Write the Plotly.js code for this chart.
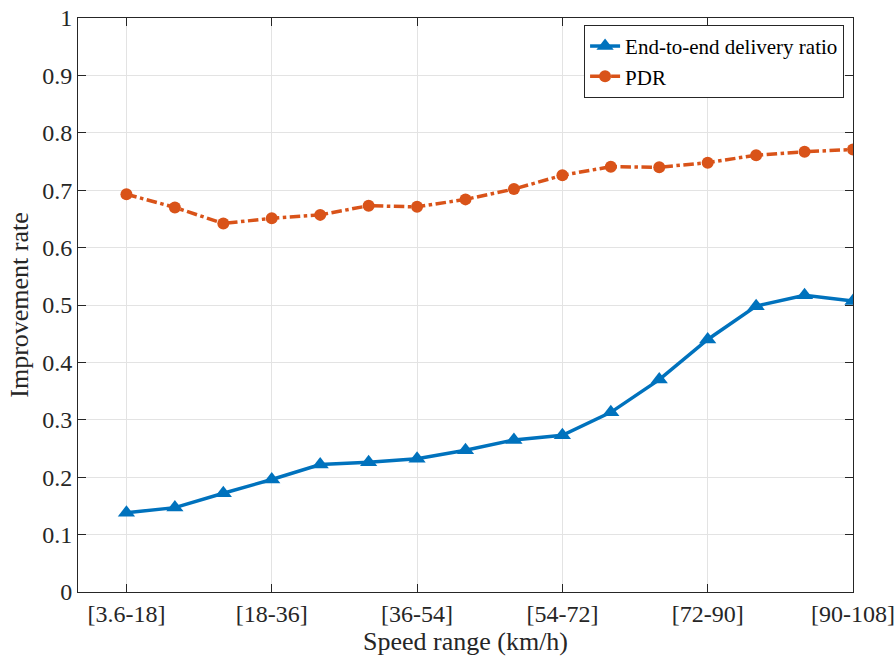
<!DOCTYPE html>
<html>
<head>
<meta charset="utf-8">
<script src="https://cdn.plot.ly/plotly-3.0.1.min.js"></script>
<style>html,body{margin:0;padding:0;background:#fff;}#chart{width:896px;height:658px;}</style>
</head>
<body>
<div id="chart"></div>
<script>
// Sample positions along the speed axis (index of each measurement)
const samplePos = [0, 1, 2, 3, 4, 5, 6, 7, 8, 9, 10, 11, 12, 13, 14, 15];
// Tick positions and labels shown on the x axis
const tickPos = [0, 3, 6, 9, 12, 15];
const tickLabels = ['[3.6-18]', '[18-36]', '[36-54]', '[54-72]', '[72-90]', '[90-108]'];
// Series values
const endToEnd = [0.138, 0.147, 0.172, 0.196, 0.222, 0.226, 0.232, 0.247, 0.265, 0.273, 0.313, 0.370, 0.440, 0.498, 0.517, 0.507];
const pdr = [0.693, 0.670, 0.642, 0.651, 0.657, 0.673, 0.671, 0.684, 0.702, 0.726, 0.741, 0.740, 0.748, 0.761, 0.767, 0.771];

const fontFam = '"Liberation Serif", "Times New Roman", serif';
const axisCol = '#262626';
const gridCol = '#e3e3e3';

const traces = [
  {
    x: samplePos, y: endToEnd, name: 'End-to-end delivery ratio',
    mode: 'lines+markers', type: 'scatter',
    line: {color: '#0072BD', width: 3.5},
    marker: {symbol: 'triangle-up', size: 15, color: '#0072BD'}
  },
  {
    x: samplePos, y: pdr, name: 'PDR',
    mode: 'lines+markers', type: 'scatter',
    line: {color: '#D95319', width: 3.5, dash: 'dashdot'},
    marker: {symbol: 'circle', size: 12, color: '#D95319'}
  }
];

const layout = {
  width: 896, height: 658,
  margin: {l: 78, r: 43, t: 18, b: 66},
  paper_bgcolor: '#fff', plot_bgcolor: '#fff',
  font: {family: fontFam, color: axisCol, size: 24},
  showlegend: true,
  legend: {
    x: 0.653, y: 0.988, xanchor: 'left', yanchor: 'top',
    bgcolor: '#fff', bordercolor: axisCol, borderwidth: 1,
    font: {family: fontFam, size: 21, color: '#000'},
    itemwidth: 30, tracegroupgap: 0
  },
  xaxis: {
    range: [-1, 15], tickmode: 'array', tickvals: tickPos, ticktext: tickLabels,
    showgrid: true, gridcolor: gridCol, gridwidth: 1,
    showline: true, linecolor: axisCol, linewidth: 1, mirror: 'ticks',
    ticks: 'inside', ticklen: 8, tickcolor: axisCol,
    zeroline: false,
    tickfont: {family: fontFam, size: 24, color: axisCol},
    title: {text: 'Speed range (km/h)', font: {family: fontFam, size: 26, color: axisCol}, standoff: 5}
  },
  yaxis: {
    range: [0, 1], dtick: 0.1, tick0: 0,
    showgrid: true, gridcolor: gridCol, gridwidth: 1,
    showline: true, linecolor: axisCol, linewidth: 1, mirror: 'ticks',
    ticks: 'inside', ticklen: 8, tickcolor: axisCol,
    zeroline: false,
    tickfont: {family: fontFam, size: 24, color: axisCol},
    title: {text: 'Improvement rate', font: {family: fontFam, size: 26, color: axisCol}, standoff: 6}
  }
};

Plotly.newPlot('chart', traces, layout, {displayModeBar: false, responsive: false});
</script>
</body>
</html>
